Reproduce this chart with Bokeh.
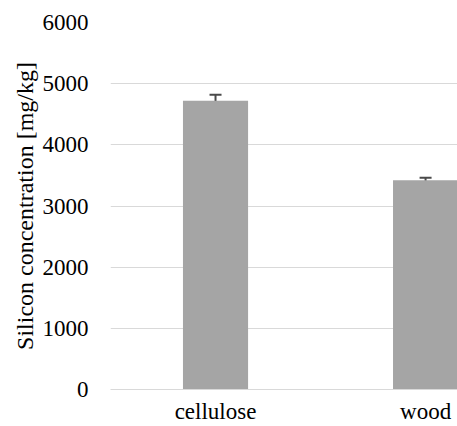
from bokeh.plotting import figure
from bokeh.models import ColumnDataSource, Range1d, FixedTicker, Whisker, TeeHead
from bokeh.embed import file_html
from bokeh.resources import INLINE

categories = ["cellulose", "wood"]
values = [4720, 3420]
errors = [100, 40]
y_ticks = [0, 1000, 2000, 3000, 4000, 5000, 6000]

SERIF = "'Liberation Serif', 'Times New Roman', serif"

xpos = [i + 0.5 for i in range(len(categories))]
src = ColumnDataSource(dict(
    x=xpos, top=values,
    upper=[v + e for v, e in zip(values, errors)],
    lower=[v - e for v, e in zip(values, errors)],
))

p = figure(width=457, height=426, output_backend="svg", toolbar_location=None,
           x_range=Range1d(0, 1.652), y_range=Range1d(0, 6000),
           min_border_left=110, min_border_right=0, min_border_top=22, min_border_bottom=37)
p.outline_line_color = None
p.background_fill_color = "white"

p.vbar(x="x", top="top", width=0.31, bottom=0, source=src, fill_color="#a5a5a5", line_color=None)

w = Whisker(base="x", upper="upper", lower="lower", source=src, dimension="height",
            line_color="#4a4a4a", line_width=2,
            upper_head=TeeHead(size=12, line_color="#4a4a4a", line_width=2),
            lower_head=TeeHead(size=12, line_color="#4a4a4a", line_width=2))
p.add_layout(w)

p.xgrid.visible = False
p.ygrid.grid_line_color = "#d9d9d9"
p.ygrid.grid_line_width = 1
p.ygrid.ticker = FixedTicker(ticks=y_ticks)

p.xaxis.ticker = FixedTicker(ticks=xpos)
p.xaxis.major_label_overrides = {x: c for x, c in zip(xpos, categories)}
p.xaxis.axis_line_color = "#d9d9d9"
p.xaxis.major_tick_line_color = None
p.xaxis.minor_tick_line_color = None
p.xaxis.major_tick_out = 0
p.xaxis.major_tick_in = 0
p.xaxis.major_label_standoff = 9
p.xaxis.major_label_text_font = SERIF
p.xaxis.major_label_text_font_size = "23px"
p.xaxis.major_label_text_color = "#000000"

p.yaxis.ticker = FixedTicker(ticks=y_ticks)
p.yaxis.axis_line_color = None
p.yaxis.major_tick_line_color = None
p.yaxis.minor_tick_line_color = None
p.yaxis.major_tick_out = 0
p.yaxis.major_tick_in = 0
p.yaxis.major_label_standoff = 22
p.yaxis.major_label_text_font = SERIF
p.yaxis.major_label_text_font_size = "23px"
p.yaxis.major_label_text_color = "#000000"
p.yaxis.axis_label = "Silicon concentration [mg/kg]"
p.yaxis.axis_label_text_font = SERIF
p.yaxis.axis_label_text_font_size = "24px"
p.yaxis.axis_label_text_font_style = "normal"
p.yaxis.axis_label_text_color = "#000000"
p.yaxis.axis_label_standoff = 2

open("out.html", "w").write(file_html(p, INLINE))
